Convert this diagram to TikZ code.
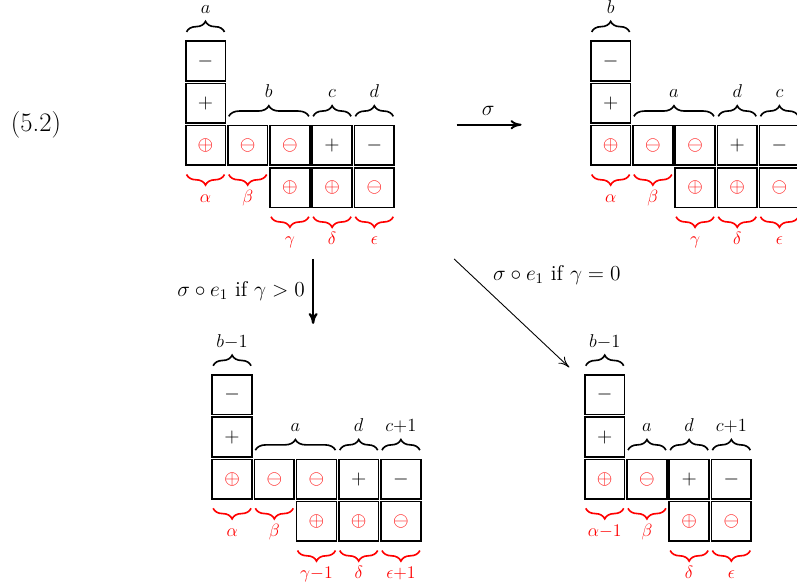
\documentclass[tikz,border=0pt]{standalone}
\usepackage{fix-cm}
\usepackage{amsmath}
\usetikzlibrary{arrows.meta,decorations.pathreplacing}

\begin{document}
\begin{tikzpicture}[
  >={To[length=2.6mm,width=2.2mm]},
  cell/.style={draw, line width=1.1pt, minimum size=0.94cm, inner sep=0pt,
    font=\fontsize{13.5}{16}\selectfont},
  tbr/.style={line width=1.1pt, decorate,
    decoration={brace, amplitude=0.25cm, raise=0.2cm}},
  rbr/.style={line width=1.1pt, red, decorate,
    decoration={brace, mirror, amplitude=0.25cm, raise=0.2cm}},
  lab/.style={midway, anchor=base, inner sep=0pt, font=\fontsize{12.5}{15}\selectfont},
  toplab/.style={lab, yshift=0.64cm},
  botlab/.style={lab, red, yshift=-0.87cm, font=\fontsize{12}{14}\selectfont},
  arrlab/.style={inner sep=0pt, font=\fontsize{14.4}{17}\selectfont},
]
  \clip (0,0) rectangle (18.886,13.886);

  % equation number
  \node[inner sep=0pt, anchor=base, font=\fontsize{18}{21}\selectfont] (eqno) at (0.853,10.77) {(5.2)};

  % top left tableau
  \begin{scope}[shift={(4.37,8.94)}]
    \foreach \c/\r/\s/\t in {0/3/-/black, 0/2/+/black, 0/1/\oplus/red,
        1/1/\ominus/red, 2/1/\ominus/red, 3/1/+/black, 4/1/-/black,
        2/0/\oplus/red, 3/0/\oplus/red, 4/0/\ominus/red}
      \node[cell, text=\t] (A\c\r) at (\c+0.5,\r+0.5) {$\s$};
    \foreach \f/\g/\l in {03/03/a, 11/21/b, 31/31/c, 41/41/d}
      \draw[tbr] ([xshift=0.04cm]A\f.north west) -- ([xshift=-0.04cm]A\g.north east)
        node[toplab] (A-\f) {$\l$};
    \foreach \f/\l in {01/\alpha, 11/\beta, 20/\gamma, 30/\delta, 40/\epsilon}
      \draw[rbr] ([xshift=0.04cm]A\f.south west) -- ([xshift=-0.04cm]A\f.south east)
        node[botlab] (A-r\f) {$\l$};
  \end{scope}

  % top right tableau
  \begin{scope}[shift={(13.97,8.94)}]
    \foreach \c/\r/\s/\t in {0/3/-/black, 0/2/+/black, 0/1/\oplus/red,
        1/1/\ominus/red, 2/1/\ominus/red, 3/1/+/black, 4/1/-/black,
        2/0/\oplus/red, 3/0/\oplus/red, 4/0/\ominus/red}
      \node[cell, text=\t] (B\c\r) at (\c+0.5,\r+0.5) {$\s$};
    \foreach \f/\g/\l in {03/03/b, 11/21/a, 31/31/d, 41/41/c}
      \draw[tbr] ([xshift=0.04cm]B\f.north west) -- ([xshift=-0.04cm]B\g.north east)
        node[toplab] (B-\f) {$\l$};
    \foreach \f/\l in {01/\alpha, 11/\beta, 20/\gamma, 30/\delta, 40/\epsilon}
      \draw[rbr] ([xshift=0.04cm]B\f.south west) -- ([xshift=-0.04cm]B\f.south east)
        node[botlab] (B-r\f) {$\l$};
  \end{scope}

  % bottom left tableau
  \begin{scope}[shift={(5.0,1.03)}]
    \foreach \c/\r/\s/\t in {0/3/-/black, 0/2/+/black, 0/1/\oplus/red,
        1/1/\ominus/red, 2/1/\ominus/red, 3/1/+/black, 4/1/-/black,
        2/0/\oplus/red, 3/0/\oplus/red, 4/0/\ominus/red}
      \node[cell, text=\t] (C\c\r) at (\c+0.5,\r+0.5) {$\s$};
    \foreach \f/\g/\l in {03/03/b{-}1, 11/21/a, 31/31/d, 41/41/c{+}1}
      \draw[tbr] ([xshift=0.04cm]C\f.north west) -- ([xshift=-0.04cm]C\g.north east)
        node[toplab] (C-\f) {$\l$};
    \foreach \f/\l in {01/\alpha, 11/\beta, 20/\gamma{-}1, 30/\delta, 40/\epsilon{+}1}
      \draw[rbr] ([xshift=0.04cm]C\f.south west) -- ([xshift=-0.04cm]C\f.south east)
        node[botlab] (C-r\f) {$\l$};
  \end{scope}

  % bottom right tableau
  \begin{scope}[shift={(13.83,1.03)}]
    \foreach \c/\r/\s/\t in {0/3/-/black, 0/2/+/black, 0/1/\oplus/red,
        1/1/\ominus/red, 2/1/+/black, 3/1/-/black,
        2/0/\oplus/red, 3/0/\ominus/red}
      \node[cell, text=\t] (D\c\r) at (\c+0.5,\r+0.5) {$\s$};
    \foreach \f/\g/\l in {03/03/b{-}1, 11/11/a, 21/21/d, 31/31/c{+}1}
      \draw[tbr] ([xshift=0.04cm]D\f.north west) -- ([xshift=-0.04cm]D\g.north east)
        node[toplab] (D-\f) {$\l$};
    \foreach \f/\l in {01/\alpha{-}1, 11/\beta, 20/\delta, 30/\epsilon}
      \draw[rbr] ([xshift=0.04cm]D\f.south west) -- ([xshift=-0.04cm]D\f.south east)
        node[botlab] (D-r\f) {$\l$};
  \end{scope}

  % sigma
  \coordinate (s1) at (10.82,10.93);
  \coordinate (s2) at (12.36,10.93);
  \draw[->, line width=1.3pt] (s1) -- (s2);
  \node[arrlab, anchor=base] (sig) at (11.57,11.14) {$\sigma$};

  % gamma > 0
  \coordinate (d1) at (7.42,7.75);
  \coordinate (d2) at (7.42,6.21);
  \draw[->, line width=1.6pt] (d1) -- (d2);
  \node[arrlab, anchor=base east] (gpos) at (7.23,6.86) {$\sigma\circ e_1$ if $\gamma>0$};

  % gamma = 0
  \coordinate (q1) at (10.76,7.75);
  \coordinate (q2) at (13.49,5.18);
  \draw[->, line width=0.6pt] (q1) -- (q2);
  \node[arrlab, anchor=base west] (gnul) at (11.68,7.25) {$\sigma\circ e_1$ if $\gamma=0$};

\end{tikzpicture}
\end{document}
